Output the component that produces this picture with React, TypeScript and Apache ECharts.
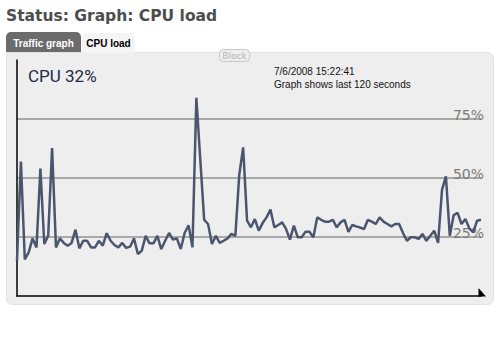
import React, { useEffect, useRef } from "react";
import * as echarts from "echarts";

// CPU load over the last 120 seconds (one sample per second), percent
const cpuValues: number[] = [
  15, 57, 15.5, 18.5, 24.4, 20.6, 54, 22, 25.5, 62.7,
  20.6, 24.4, 22.5, 21.3, 22.5, 28.1, 20.2, 23.4, 23.4, 20.6,
  20.6, 23.4, 21.3, 26.6, 23.4, 21.6, 20.6, 22.5, 20.4, 20.9,
  24.4, 17.8, 19.2, 25.5, 22.3, 22.3, 25.5, 19.9, 23.4, 26.7,
  23.9, 24.4, 19.9, 26.7, 30, 20.6, 84, 58, 32.3, 30.5,
  22, 25.5, 22.5, 23.4, 24.4, 26.3, 25.5, 51.3, 63, 31.9,
  29.1, 32.6, 27.7, 30.9, 33.3, 36.6, 29.1, 30.1, 31.2, 28.4,
  23.9, 29.8, 24.9, 24.9, 27.2, 27.2, 24.9, 33.3, 32.3, 31.5,
  31.5, 32.3, 29.1, 31.2, 32.3, 27.2, 30.1, 29.5, 29, 28.4,
  32.3, 31.5, 30.5, 33.3, 31.5, 30.5, 29.5, 30.5, 30.5, 26.7,
  23.4, 24.9, 24.9, 24.2, 26.3, 23.4, 25.5, 27.7, 22.5, 45,
  50.7, 25.5, 34.3, 35.2, 30.5, 32.6, 28.7, 27, 31.9, 32.3,
];
const seconds: string[] = cpuValues.map((_, i) => String(i - 119));
const gridTicks: number[] = [25, 50, 75];
const pageTitle = "Status: Graph: CPU load";
const tabLabels: string[] = ["Traffic graph", "CPU load"];
const currentLoad = "CPU 32%";
const timestamp = "7/6/2008 15:22:41";
const rangeNote = "Graph shows last 120 seconds";

const FONT = "DejaVu Sans";

export default function App() {
  const ref = useRef<HTMLDivElement>(null);
  useEffect(() => {
    if (!ref.current) return;
    const chart = echarts.init(ref.current, undefined, { renderer: "svg" });
    const splitColors = [0, 25, 50, 75, 100].map((v) =>
      gridTicks.includes(v) ? "#a9a9a9" : "rgba(0,0,0,0)"
    );
    chart.setOption({
      animation: false,
      backgroundColor: "#ffffff",
      grid: { left: 17, right: 19, top: 60, bottom: 58 },
      xAxis: {
        type: "category",
        data: seconds,
        boundaryGap: false,
        axisLine: { show: true, lineStyle: { color: "#000", width: 1.5 } },
        axisTick: { show: false },
        axisLabel: { show: false },
        splitLine: { show: false },
      },
      yAxis: [
        {
          type: "value",
          min: 0,
          max: 100,
          interval: 25,
          position: "left",
          axisLine: { show: true, lineStyle: { color: "#000", width: 1.5 } },
          axisTick: { show: false },
          axisLabel: { show: false },
          splitLine: { show: true, lineStyle: { color: splitColors, width: 2 } },
        },
        {
          type: "value",
          min: 0,
          max: 100,
          interval: 25,
          position: "right",
          offset: 3,
          axisLine: { show: false },
          axisTick: { show: false },
          splitLine: { show: false },
          axisLabel: {
            show: true,
            inside: true,
            margin: 0,
            verticalAlign: "bottom",
            lineHeight: 8,
            color: "#7a7a7a",
            fontFamily: FONT,
            fontSize: 14,
            formatter: (v: number) => (gridTicks.includes(v) ? v + "%" : ""),
          },
        },
      ],
      series: [
        {
          type: "line",
          data: cpuValues,
          yAxisIndex: 0,
          symbol: "none",
          z: 5,
          lineStyle: { color: "#4b566e", width: 2.5 },
        },
      ],
      graphic: [
        {
          type: "rect",
          z: -10,
          shape: { x: 6.5, y: 52.5, width: 487, height: 252, r: [0, 6, 6, 6] },
          style: { fill: "#eeeeee", stroke: "#e2e2e2", lineWidth: 1 },
        },
        {
          type: "rect",
          z: -9,
          shape: { x: 6, y: 32, width: 75, height: 20, r: [5, 5, 0, 0] },
          style: { fill: "#6b6b6b" },
        },
        {
          type: "rect",
          z: -9,
          shape: { x: 82, y: 33, width: 53, height: 20, r: [5, 5, 0, 0] },
          style: { fill: "#f4f4f4" },
        },
        {
          type: "text",
          z: 10,
          x: 43.5,
          y: 43,
          style: {
            text: tabLabels[0],
            fill: "#ffffff",
            font: `bold 10px 'Liberation Sans'`,
            align: "center",
            verticalAlign: "middle",
          },
        },
        {
          type: "text",
          z: 10,
          x: 108.5,
          y: 43,
          style: {
            text: tabLabels[1],
            fill: "#000000",
            font: `bold 10px 'Liberation Sans'`,
            align: "center",
            verticalAlign: "middle",
          },
        },
        {
          type: "text",
          z: 10,
          x: 6,
          y: 16,
          style: {
            text: pageTitle,
            fill: "#4d4d4d",
            font: `bold 15.5px '${FONT}'`,
            align: "left",
            verticalAlign: "middle",
          },
        },
        {
          type: "rect",
          z: -8,
          shape: { x: 219.5, y: 49.5, width: 30, height: 12, r: 4 },
          style: { fill: "#eeeeee", stroke: "#c8c8c8", lineWidth: 1 },
        },
        {
          type: "text",
          z: 10,
          x: 234.5,
          y: 56,
          style: {
            text: "Block",
            fill: "#b3b3b3",
            font: `9px '${FONT}'`,
            align: "center",
            verticalAlign: "middle",
          },
        },
        {
          type: "text",
          z: 10,
          x: 28,
          y: 75.5,
          style: {
            text: currentLoad,
            fill: "#1c2a44",
            font: `17px 'Roboto'`,
            align: "left",
            verticalAlign: "middle",
          },
        },
        {
          type: "text",
          z: 10,
          x: 274,
          y: 71.5,
          style: {
            text: timestamp,
            fill: "#111111",
            font: `10px 'Liberation Sans'`,
            align: "left",
            verticalAlign: "middle",
          },
        },
        {
          type: "text",
          z: 10,
          x: 274,
          y: 84,
          style: {
            text: rangeNote,
            fill: "#111111",
            font: `10px 'Liberation Sans'`,
            align: "left",
            verticalAlign: "middle",
          },
        },
        {
          type: "polygon",
          z: 10,
          shape: { points: [[478.5, 288], [486, 296.5], [478.5, 296.5]] },
          style: { fill: "#000000" },
        },
      ],
    });
    return () => chart.dispose();
  }, []);
  return (
    <div
      ref={ref}
      style={{ position: "fixed", left: 0, top: 0, width: 500, height: 354, background: "#fff" }}
    />
  );
}
